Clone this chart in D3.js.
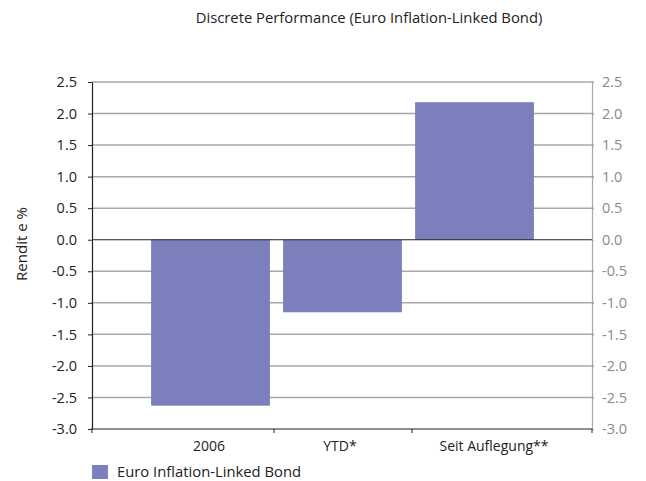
<!DOCTYPE html>
<html>
<head>
<meta charset="utf-8">
<script src="https://cdn.jsdelivr.net/npm/d3@7"></script>
<style>
  html, body { margin: 0; padding: 0; background: #fff; }
  svg { display: block; font-family: "Open Sans", "Noto Sans", sans-serif; }
</style>
</head>
<body>
<svg id="chart" width="646" height="481"></svg>
<script>
// Discrete performance by period
const categories = ["2006", "YTD*", "Seit Auflegung**"];
const values = [-2.63, -1.15, 2.18];
const seriesName = "Euro Inflation-Linked Bond";
const yTicks = [2.5, 2.0, 1.5, 1.0, 0.5, 0.0, -0.5, -1.0, -1.5, -2.0, -2.5, -3.0];

const svg = d3.select("#chart");
const barColor = "#7b7fbb";
const gridColor = "#a8a8a8";
const fmt = d => d.toFixed(1);   // plain hyphen for negatives

const plot = { left: 92, right: 592, top: 82, bottom: 429 };

const y = d3.scaleLinear().domain([-3, 2.5]).range([plot.bottom, plot.top]);
const x = d3.scaleBand()
  .domain(categories)
  .range([144.5, 540.5])
  .paddingInner(0.1)
  .paddingOuter(0.05);

// Title
svg.append("text")
  .attr("x", 369).attr("y", 23)
  .attr("text-anchor", "middle")
  .attr("font-size", 14.8)
  .attr("fill", "#222")
  .text("Discrete Performance (Euro Inflation-Linked Bond)");

// Horizontal gridlines
svg.append("g")
  .selectAll("line")
  .data(yTicks.filter(d => d !== 0 && d !== -3))
  .join("line")
  .attr("x1", plot.left).attr("x2", plot.right + 2)
  .attr("y1", d => y(d)).attr("y2", d => y(d))
  .attr("stroke", gridColor).attr("stroke-width", 1.5);

// Bars
svg.append("g")
  .selectAll("rect")
  .data(values)
  .join("rect")
  .attr("x", (d, i) => x(categories[i]))
  .attr("width", x.bandwidth())
  .attr("y", d => y(Math.max(0, d)))
  .attr("height", d => Math.abs(y(d) - y(0)))
  .attr("fill", barColor);

// Zero line
svg.append("line")
  .attr("x1", plot.left).attr("x2", plot.right)
  .attr("y1", y(0)).attr("y2", y(0))
  .attr("stroke", "#222").attr("stroke-width", 1.2);

// Left axis
const leftAxis = d3.axisLeft(y).tickValues(yTicks).tickSize(4).tickSizeOuter(0)
  .tickFormat(fmt);
const gl = svg.append("g").attr("transform", `translate(${plot.left},0)`).call(leftAxis);
gl.select(".domain").attr("stroke", "#222").attr("stroke-width", 1.2);
gl.selectAll(".tick line").attr("stroke", "#222");
gl.selectAll(".tick text")
  .attr("x", -15)
  .attr("font-size", 14.5).attr("fill", "#222")
  .attr("font-family", "Open Sans, sans-serif");

// Right axis
const rightAxis = d3.axisRight(y).tickValues(yTicks).tickSize(2).tickSizeOuter(0)
  .tickFormat(fmt);
const gr = svg.append("g").attr("transform", `translate(${plot.right},0)`).call(rightAxis);
gr.select(".domain").attr("stroke", gridColor).attr("stroke-width", 1.2);
gr.selectAll(".tick line").attr("stroke", gridColor);
gr.selectAll(".tick text")
  .attr("x", 10)
  .attr("font-size", 14.5).attr("fill", "#8a8a8a")
  .attr("font-family", "Open Sans, sans-serif");

// Bottom axis line with category separators
svg.append("line")
  .attr("x1", plot.left - 1).attr("x2", plot.right)
  .attr("y1", plot.bottom).attr("y2", plot.bottom)
  .attr("stroke", "#222").attr("stroke-width", 1.2);
const separators = [plot.left, 274, 412, plot.right];
svg.append("g").selectAll("line")
  .data(separators)
  .join("line")
  .attr("x1", d => d).attr("x2", d => d)
  .attr("y1", plot.bottom).attr("y2", plot.bottom + 4)
  .attr("stroke", "#222");

// Category labels
const labelX = [209, 340, 494];
svg.append("g").selectAll("text")
  .data(categories)
  .join("text")
  .attr("x", (d, i) => labelX[i])
  .attr("y", 451)
  .attr("text-anchor", "middle")
  .attr("font-size", 14)
  .attr("fill", "#222")
  .text(d => d);

// Y axis title
svg.append("text")
  .attr("transform", "translate(27,244) rotate(-90)")
  .attr("text-anchor", "middle")
  .attr("font-size", 15)
  .attr("fill", "#222")
  .text("Rendit e %");

// Legend
svg.append("rect")
  .attr("x", 92).attr("y", 465).attr("width", 16).attr("height", 14)
  .attr("fill", barColor);
svg.append("text")
  .attr("x", 117).attr("y", 477)
  .attr("font-size", 14.8)
  .attr("fill", "#222")
  .text(seriesName);
</script>
</body>
</html>
